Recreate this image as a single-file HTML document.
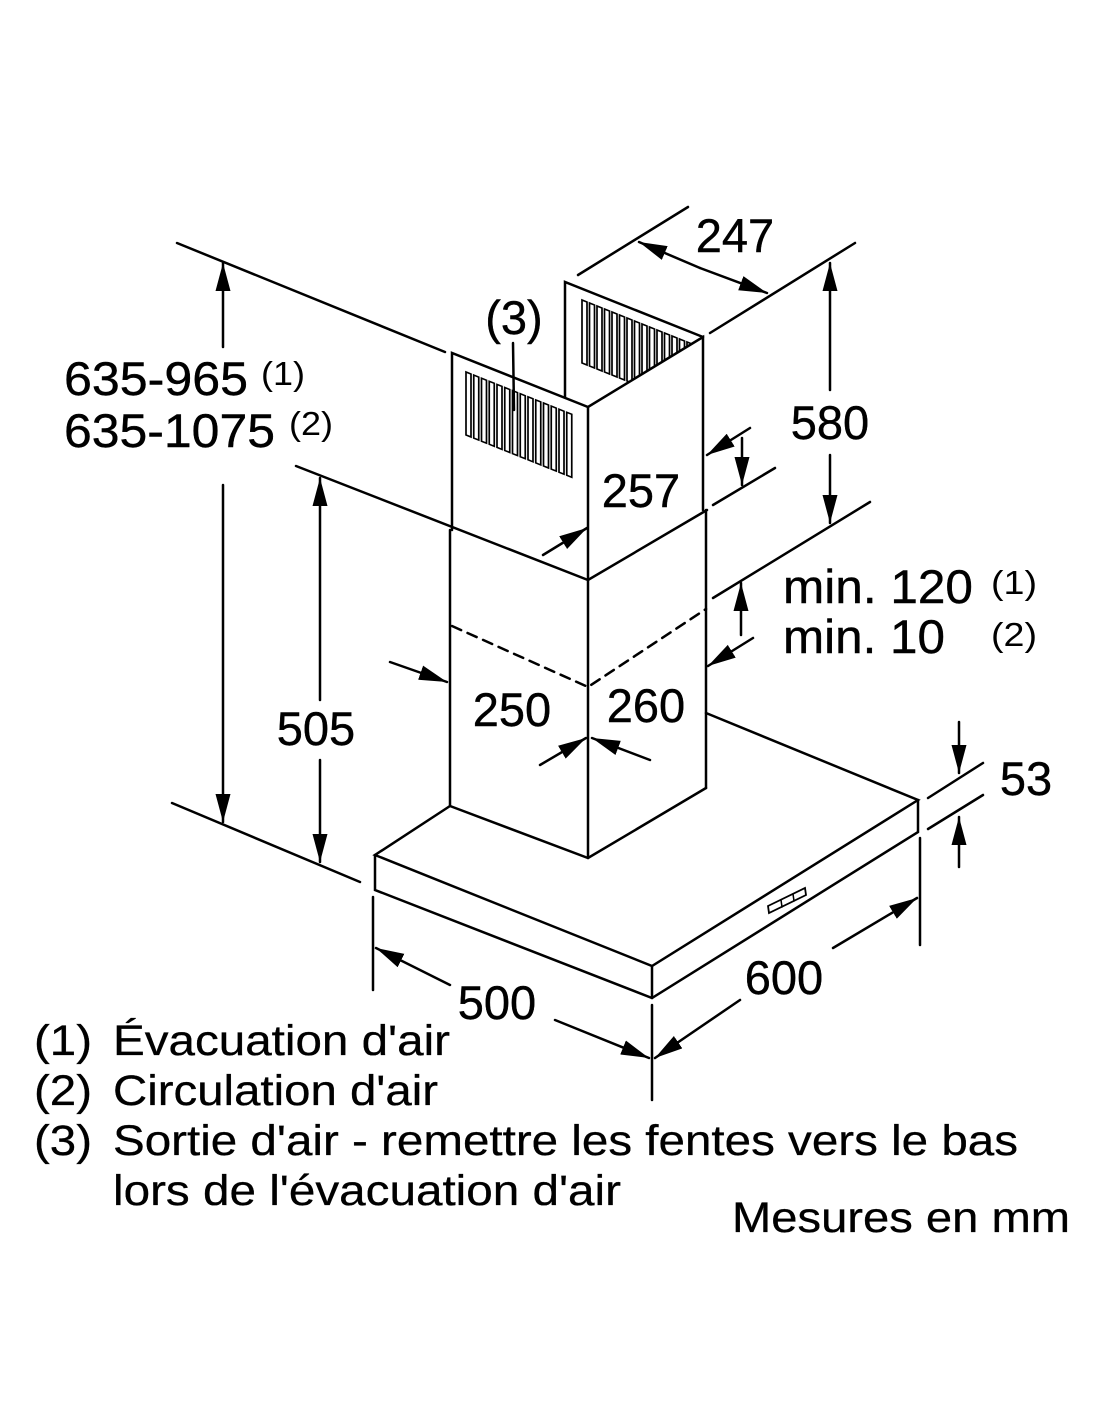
<!DOCTYPE html>
<html><head><meta charset="utf-8"><style>
html,body{margin:0;padding:0;background:#fff;}
svg{display:block;}
text{font-family:"Liberation Sans",Arial,sans-serif;fill:#000;}
</style></head><body>
<svg width="1100" height="1422" viewBox="0 0 1100 1422" xmlns="http://www.w3.org/2000/svg">
<defs>
<marker id="a" viewBox="0 0 28 16" refX="28" refY="8" markerWidth="28" markerHeight="16" markerUnits="userSpaceOnUse" orient="auto"><path d="M0,0.5 L28,8 L0,15.5 Z" fill="#000"/></marker>
<clipPath id="bk"><polygon points="560,270 710,270 703,337 588,407 560,407"/></clipPath>
</defs>
<g stroke="#000" stroke-width="2.5" fill="none" stroke-linecap="round">
<polyline points="452,530 452,353 588,407 703,337 703,510"/>
<polyline points="565,397 565,282 703,337"/>
<line x1="588" y1="407" x2="588" y2="580"/>
<polyline points="296,466 588,580 707,510"/>
<line x1="450" y1="530" x2="450" y2="806"/>
<line x1="706" y1="510" x2="706" y2="788"/>
<line x1="588" y1="580" x2="588" y2="858"/>
<polyline points="450,806 588,858 706,788"/>
<path d="M452,626 L588,687 L706,609" stroke-dasharray="10,7"/>
<polyline points="450,806 375,855 652,966 918,800 706,713"/>
<polyline points="375,855 375,890 652,998 918,832 918,800"/>
<line x1="652" y1="966" x2="652" y2="998"/>
<polygon points="768,906 805,888 806,895 769,913" stroke-width="1.8"/>
<line x1="781" y1="900" x2="782" y2="907" stroke-width="1.5"/>
<line x1="793" y1="894" x2="794" y2="901" stroke-width="1.5"/>
<g transform="matrix(1,0.4,0,1,0,0)" stroke-width="1.7">
<rect x="466" y="185.6" width="5" height="63"/><rect x="473.75" y="185.6" width="5" height="63"/><rect x="481.5" y="185.6" width="5" height="63"/><rect x="489.25" y="185.6" width="5" height="63"/><rect x="497" y="185.6" width="5" height="63"/><rect x="504.75" y="185.6" width="5" height="63"/><rect x="512.5" y="185.6" width="5" height="63"/><rect x="520.25" y="185.6" width="5" height="63"/><rect x="528" y="185.6" width="5" height="63"/><rect x="535.75" y="185.6" width="5" height="63"/><rect x="543.5" y="185.6" width="5" height="63"/><rect x="551.25" y="185.6" width="5" height="63"/><rect x="559" y="185.6" width="5" height="63"/><rect x="566.75" y="185.6" width="5" height="63"/>
</g>
<g clip-path="url(#bk)"><g transform="matrix(1,0.4,0,1,0,0)" stroke-width="1.7">
<rect x="582" y="67.2" width="5" height="63"/><rect x="589.5" y="67.2" width="5" height="63"/><rect x="597" y="67.2" width="5" height="63"/><rect x="604.5" y="67.2" width="5" height="63"/><rect x="612" y="67.2" width="5" height="63"/><rect x="619.5" y="67.2" width="5" height="63"/><rect x="627" y="67.2" width="5" height="63"/><rect x="634.5" y="67.2" width="5" height="63"/><rect x="642" y="67.2" width="5" height="63"/><rect x="649.5" y="67.2" width="5" height="63"/><rect x="657" y="67.2" width="5" height="63"/><rect x="664.5" y="67.2" width="5" height="63"/><rect x="672" y="67.2" width="5" height="63"/><rect x="679.5" y="67.2" width="5" height="63"/><rect x="687" y="67.2" width="5" height="63"/>
</g></g>
<line x1="513" y1="343" x2="514" y2="410"/>
<line x1="177" y1="243" x2="445" y2="352"/>
<line x1="172" y1="803" x2="360" y2="882"/>
<line x1="578" y1="275" x2="688" y2="207"/>
<line x1="710" y1="333" x2="855" y2="243"/>
<line x1="713" y1="505" x2="775" y2="468"/>
<line x1="713" y1="598" x2="870" y2="502"/>
<line x1="928" y1="798" x2="983" y2="763"/>
<line x1="928" y1="829" x2="983" y2="795"/>
<line x1="373" y1="897" x2="373" y2="990"/>
<line x1="652" y1="1005" x2="652" y2="1100"/>
<line x1="920" y1="838" x2="920" y2="945"/>
<g marker-end="url(#a)">
<line x1="223" y1="347" x2="223" y2="263"/>
<line x1="223" y1="485" x2="223" y2="822"/>
<line x1="320" y1="700" x2="320" y2="478"/>
<line x1="320" y1="760" x2="320" y2="862"/>
<line x1="700" y1="268" x2="639" y2="242"/>
<line x1="700" y1="268" x2="767" y2="293"/>
<line x1="830" y1="390" x2="830" y2="263"/>
<line x1="830" y1="455" x2="830" y2="523"/>
<line x1="750" y1="428" x2="707" y2="455"/>
<line x1="742" y1="438" x2="742" y2="485"/>
<line x1="543" y1="555" x2="587" y2="528"/>
<line x1="741" y1="635" x2="741" y2="583"/>
<line x1="753" y1="638" x2="708" y2="666"/>
<line x1="390" y1="662" x2="447" y2="682"/>
<line x1="540" y1="765" x2="586" y2="738"/>
<line x1="650" y1="760" x2="592" y2="738"/>
<line x1="959" y1="722" x2="959" y2="773"/>
<line x1="959" y1="867" x2="959" y2="817"/>
<line x1="450" y1="985" x2="376" y2="948"/>
<line x1="555" y1="1020" x2="649" y2="1058"/>
<line x1="833" y1="948" x2="917" y2="898"/>
<line x1="740" y1="1000" x2="655" y2="1058"/>
</g>
</g>
<g font-size="47" stroke="#000" stroke-width="0.4">
<text x="64" y="395" textLength="184" lengthAdjust="spacingAndGlyphs">635-965</text>
<text x="64" y="447" textLength="211" lengthAdjust="spacingAndGlyphs">635-1075</text>
<text x="514" y="334" text-anchor="middle">(3)</text>
<text x="735" y="252" text-anchor="middle">247</text>
<text x="830" y="439" text-anchor="middle">580</text>
<text x="641" y="507" text-anchor="middle">257</text>
<text x="783" y="603" textLength="190" lengthAdjust="spacingAndGlyphs">min. 120</text>
<text x="783" y="653" textLength="162" lengthAdjust="spacingAndGlyphs">min. 10</text>
<text x="316" y="745" text-anchor="middle">505</text>
<text x="512" y="726" text-anchor="middle">250</text>
<text x="646" y="722" text-anchor="middle">260</text>
<text x="1026" y="795" text-anchor="middle">53</text>
<text x="497" y="1019" text-anchor="middle">500</text>
<text x="784" y="994" text-anchor="middle">600</text>
</g>
<g font-size="33">
<text x="261" y="385" textLength="44" lengthAdjust="spacingAndGlyphs">(1)</text>
<text x="289" y="435" textLength="44" lengthAdjust="spacingAndGlyphs">(2)</text>
<text x="991" y="594" textLength="46" lengthAdjust="spacingAndGlyphs">(1)</text>
<text x="991" y="646" textLength="46" lengthAdjust="spacingAndGlyphs">(2)</text>
</g>
<g font-size="43" stroke="#000" stroke-width="0.3">
<text x="34" y="1055" textLength="58" lengthAdjust="spacingAndGlyphs">(1)</text>
<text x="113" y="1055" textLength="337" lengthAdjust="spacingAndGlyphs">Évacuation d'air</text>
<text x="34" y="1105" textLength="58" lengthAdjust="spacingAndGlyphs">(2)</text>
<text x="113" y="1105" textLength="325" lengthAdjust="spacingAndGlyphs">Circulation d'air</text>
<text x="34" y="1155" textLength="58" lengthAdjust="spacingAndGlyphs">(3)</text>
<text x="113" y="1155" textLength="905" lengthAdjust="spacingAndGlyphs">Sortie d'air - remettre les fentes vers le bas</text>
<text x="113" y="1205" textLength="508" lengthAdjust="spacingAndGlyphs">lors de l'évacuation d'air</text>
<text x="732" y="1232" textLength="338" lengthAdjust="spacingAndGlyphs">Mesures en mm</text>
</g>
</svg>
</body></html>
